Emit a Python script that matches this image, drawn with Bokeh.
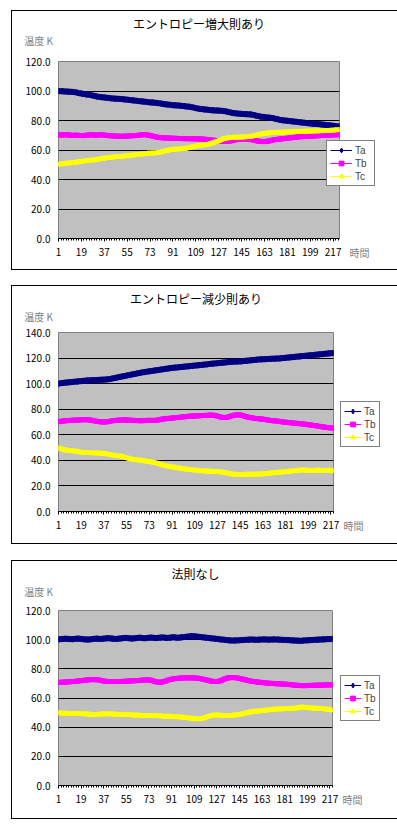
from bokeh.plotting import figure
from bokeh.models import (Range1d, FixedTicker, NumeralTickFormatter, Legend, LegendItem,
                          ColumnDataSource, LinearAxis)
from bokeh.layouts import column
from bokeh.embed import file_html
from bokeh.resources import INLINE

FONT = "Noto Sans CJK JP"
LEG_FONT = "Liberation Sans"

titles = ["エントロピー増大則あり", "エントロピー減少則あり", "法則なし"]
y_axis_name = "温度 K"
x_axis_name = "時間"
series_names = ["Ta", "Tb", "Tc"]
x_tick_labels = [1, 19, 37, 55, 73, 91, 109, 127, 145, 163, 181, 199, 217]
y_ticks_1 = [0, 20, 40, 60, 80, 100, 120]
y_ticks_2 = [0, 20, 40, 60, 80, 100, 120, 140]
y_ticks_3 = [0, 20, 40, 60, 80, 100, 120]

# ---- Panel 1: エントロピー増大則あり ----
ta_1 = [100.0, 99.9, 99.9, 99.8, 99.8, 99.7, 99.6, 99.6, 99.5, 99.5,
        99.4, 99.4, 99.3, 99.2, 99.0, 98.8, 98.6, 98.4, 98.3, 98.1,
        98.0, 97.8, 97.7, 97.6, 97.5, 97.3, 97.1, 96.9, 96.7, 96.5,
        96.3, 96.1, 96.0, 95.9, 95.8, 95.7, 95.6, 95.5, 95.4, 95.3,
        95.2, 95.1, 95.0, 94.9, 94.8, 94.8, 94.7, 94.7, 94.6, 94.6,
        94.5, 94.4, 94.3, 94.2, 94.1, 94.0, 93.9, 93.8, 93.7, 93.6,
        93.5, 93.4, 93.3, 93.2, 93.1, 93.0, 92.9, 92.8, 92.7, 92.6,
        92.5, 92.4, 92.3, 92.2, 92.2, 92.1, 92.0, 91.9, 91.8, 91.7,
        91.6, 91.4, 91.3, 91.1, 91.0, 90.9, 90.8, 90.7, 90.6, 90.5,
        90.4, 90.3, 90.3, 90.2, 90.2, 90.1, 90.0, 89.9, 89.8, 89.7,
        89.6, 89.5, 89.4, 89.3, 89.2, 89.0, 88.8, 88.6, 88.4, 88.2,
        88.0, 87.9, 87.8, 87.7, 87.6, 87.5, 87.4, 87.3, 87.2, 87.1,
        87.0, 86.9, 86.9, 86.8, 86.8, 86.7, 86.7, 86.6, 86.6, 86.5,
        86.4, 86.3, 86.1, 85.9, 85.7, 85.5, 85.3, 85.1, 85.0, 84.9,
        84.8, 84.7, 84.6, 84.5, 84.5, 84.4, 84.4, 84.3, 84.3, 84.2,
        84.2, 84.1, 84.0, 83.8, 83.6, 83.4, 83.2, 83.0, 82.8, 82.6,
        82.5, 82.4, 82.3, 82.2, 82.1, 82.0, 81.9, 81.8, 81.7, 81.5,
        81.3, 81.1, 80.9, 80.7, 80.5, 80.3, 80.2, 80.1, 80.0, 79.9,
        79.8, 79.7, 79.6, 79.5, 79.4, 79.3, 79.2, 79.1, 79.0, 78.9,
        78.8, 78.7, 78.6, 78.5, 78.4, 78.3, 78.2, 78.1, 78.0, 77.9,
        77.8, 77.7, 77.7, 77.6, 77.6, 77.5, 77.4, 77.3, 77.2, 77.1,
        77.0, 76.9, 76.8, 76.7, 76.6, 76.5, 76.4, 76.3, 76.2, 76.1, 76.0, 75.9]
tb_1 = [70.2, 70.3, 70.2, 70.1, 70.2, 70.3, 70.4, 70.3, 70.2, 70.1,
        70.0, 69.9, 69.9, 70.0, 70.1, 70.0, 69.9, 69.8, 69.8, 69.7,
        69.8, 69.9, 70.0, 70.1, 70.2, 70.3, 70.3, 70.2, 70.1, 70.0,
        70.0, 70.1, 70.2, 70.3, 70.3, 70.2, 70.1, 70.0, 69.9, 69.8,
        69.7, 69.6, 69.6, 69.5, 69.5, 69.4, 69.4, 69.3, 69.3, 69.3,
        69.3, 69.3, 69.4, 69.4, 69.5, 69.5, 69.6, 69.6, 69.7, 69.7,
        69.8, 69.8, 69.9, 70.0, 70.1, 70.2, 70.3, 70.4, 70.4, 70.3,
        70.2, 70.0, 69.8, 69.6, 69.4, 69.2, 69.0, 68.8, 68.6, 68.5,
        68.4, 68.3, 68.3, 68.2, 68.2, 68.2, 68.1, 68.1, 68.0, 68.0,
        68.0, 67.9, 67.9, 67.9, 67.8, 67.8, 67.8, 67.8, 67.7, 67.7,
        67.7, 67.7, 67.7, 67.7, 67.6, 67.6, 67.6, 67.6, 67.6, 67.5,
        67.5, 67.5, 67.5, 67.4, 67.4, 67.3, 67.2, 67.1, 67.0, 66.9,
        66.8, 66.7, 66.6, 66.5, 66.4, 66.3, 66.2, 66.1, 66.0, 65.9,
        65.8, 65.8, 65.8, 65.9, 66.0, 66.1, 66.2, 66.4, 66.6, 66.8,
        67.0, 67.2, 67.3, 67.4, 67.5, 67.5, 67.5, 67.4, 67.4, 67.3,
        67.2, 67.1, 67.0, 66.8, 66.6, 66.4, 66.2, 66.0, 65.9, 65.8,
        65.8, 65.7, 65.7, 65.8, 65.9, 66.0, 66.2, 66.4, 66.6, 66.8,
        67.0, 67.1, 67.2, 67.3, 67.4, 67.5, 67.6, 67.7, 67.8, 67.9,
        68.0, 68.1, 68.2, 68.3, 68.4, 68.5, 68.6, 68.7, 68.8, 68.9,
        69.0, 69.0, 69.1, 69.1, 69.2, 69.2, 69.3, 69.3, 69.4, 69.4,
        69.5, 69.5, 69.6, 69.6, 69.7, 69.7, 69.8, 69.8, 69.9, 69.9,
        70.0, 70.0, 70.1, 70.1, 70.2, 70.2, 70.3, 70.3, 70.3, 70.4, 70.4, 70.4]
tc_1 = [50.0, 50.2, 50.4, 50.5, 50.6, 50.7, 50.8, 50.9, 51.0, 51.0,
        51.1, 51.2, 51.3, 51.4, 51.6, 51.7, 51.9, 52.0, 52.1, 52.2,
        52.3, 52.4, 52.5, 52.6, 52.7, 52.8, 52.9, 53.0, 53.1, 53.3,
        53.4, 53.6, 53.7, 53.9, 54.0, 54.1, 54.2, 54.4, 54.5, 54.6,
        54.7, 54.8, 54.9, 55.0, 55.1, 55.2, 55.3, 55.3, 55.4, 55.5,
        55.5, 55.6, 55.7, 55.8, 55.9, 56.0, 56.1, 56.2, 56.3, 56.4,
        56.5, 56.6, 56.7, 56.8, 56.9, 57.0, 57.1, 57.2, 57.3, 57.4,
        57.5, 57.6, 57.6, 57.7, 57.7, 57.7, 57.8, 57.9, 58.0, 58.2,
        58.4, 58.6, 58.8, 59.0, 59.2, 59.4, 59.6, 59.8, 60.0, 60.1,
        60.2, 60.3, 60.4, 60.4, 60.5, 60.5, 60.6, 60.6, 60.7, 60.8,
        60.9, 61.1, 61.3, 61.5, 61.7, 61.9, 62.1, 62.3, 62.5, 62.7,
        62.8, 62.9, 63.0, 63.1, 63.2, 63.3, 63.4, 63.6, 63.8, 64.0,
        64.3, 64.6, 64.9, 65.2, 65.5, 65.8, 66.1, 66.5, 66.9, 67.2,
        67.5, 67.7, 67.9, 68.0, 68.1, 68.2, 68.2, 68.3, 68.3, 68.4,
        68.4, 68.5, 68.5, 68.5, 68.6, 68.6, 68.6, 68.7, 68.7, 68.8,
        68.9, 69.0, 69.2, 69.4, 69.6, 69.8, 70.0, 70.2, 70.4, 70.6,
        70.8, 70.9, 71.0, 71.1, 71.2, 71.3, 71.4, 71.5, 71.5, 71.6,
        71.6, 71.7, 71.7, 71.7, 71.8, 71.8, 71.8, 71.9, 71.9, 72.0,
        72.0, 72.0, 72.1, 72.1, 72.1, 72.2, 72.2, 72.2, 72.3, 72.3,
        72.3, 72.4, 72.4, 72.4, 72.5, 72.5, 72.5, 72.6, 72.6, 72.6,
        72.6, 72.7, 72.7, 72.7, 72.7, 72.8, 72.8, 72.8, 72.8, 72.8,
        72.9, 72.9, 73.0, 73.0, 73.1, 73.2, 73.2, 73.3, 73.4, 73.5, 73.5, 73.6]

# ---- Panel 2: エントロピー減少則あり ----
ta_2 = [100.0, 100.2, 100.4, 100.5, 100.6, 100.7, 100.8, 100.9, 101.0, 101.1,
        101.2, 101.3, 101.4, 101.5, 101.6, 101.7, 101.8, 101.9, 102.0, 102.1,
        102.2, 102.3, 102.4, 102.5, 102.5, 102.6, 102.6, 102.7, 102.7, 102.8,
        102.8, 102.9, 102.9, 103.0, 103.0, 103.1, 103.1, 103.2, 103.3, 103.4,
        103.5, 103.7, 103.9, 104.1, 104.3, 104.5, 104.7, 104.9, 105.1, 105.3,
        105.5, 105.7, 105.9, 106.1, 106.3, 106.5, 106.7, 106.9, 107.1, 107.3,
        107.5, 107.7, 107.9, 108.1, 108.3, 108.5, 108.7, 108.9, 109.0, 109.2,
        109.3, 109.5, 109.6, 109.8, 109.9, 110.1, 110.2, 110.4, 110.5, 110.7,
        110.8, 111.0, 111.1, 111.3, 111.4, 111.6, 111.7, 111.9, 112.0, 112.2,
        112.3, 112.4, 112.5, 112.6, 112.7, 112.8, 112.9, 113.0, 113.1, 113.2,
        113.3, 113.4, 113.5, 113.6, 113.7, 113.8, 113.9, 114.0, 114.1, 114.2,
        114.3, 114.4, 114.5, 114.6, 114.7, 114.8, 114.9, 115.0, 115.1, 115.3,
        115.4, 115.5, 115.6, 115.7, 115.8, 115.9, 116.0, 116.1, 116.2, 116.3,
        116.4, 116.5, 116.6, 116.7, 116.8, 116.9, 117.0, 117.1, 117.1, 117.2,
        117.2, 117.3, 117.3, 117.4, 117.4, 117.5, 117.6, 117.7, 117.8, 117.9,
        118.0, 118.1, 118.2, 118.3, 118.4, 118.5, 118.6, 118.7, 118.8, 118.9,
        119.0, 119.0, 119.1, 119.1, 119.2, 119.2, 119.3, 119.3, 119.4, 119.4,
        119.5, 119.5, 119.6, 119.6, 119.7, 119.7, 119.8, 119.9, 120.0, 120.1,
        120.2, 120.3, 120.4, 120.5, 120.6, 120.7, 120.8, 120.9, 121.0, 121.1,
        121.2, 121.3, 121.4, 121.5, 121.6, 121.7, 121.8, 121.9, 122.0, 122.1,
        122.2, 122.3, 122.4, 122.5, 122.6, 122.7, 122.8, 122.9, 123.0, 123.1,
        123.2, 123.3, 123.4, 123.5, 123.6, 123.7, 123.8, 123.9, 124.0]
tb_2 = [70.2, 70.4, 70.6, 70.7, 70.8, 70.9, 71.0, 71.1, 71.2, 71.2,
        71.3, 71.3, 71.4, 71.4, 71.5, 71.5, 71.6, 71.6, 71.7, 71.7,
        71.8, 71.8, 71.8, 71.7, 71.7, 71.6, 71.4, 71.2, 71.0, 70.8,
        70.6, 70.4, 70.3, 70.2, 70.1, 70.0, 70.0, 70.0, 70.1, 70.2,
        70.4, 70.6, 70.8, 71.0, 71.1, 71.2, 71.3, 71.4, 71.5, 71.5,
        71.5, 71.6, 71.6, 71.6, 71.5, 71.5, 71.4, 71.4, 71.3, 71.3,
        71.2, 71.2, 71.1, 71.1, 71.0, 71.0, 71.0, 71.1, 71.1, 71.2,
        71.2, 71.3, 71.3, 71.3, 71.2, 71.2, 71.2, 71.3, 71.4, 71.6,
        71.8, 72.0, 72.2, 72.4, 72.5, 72.6, 72.7, 72.8, 72.9, 73.0,
        73.1, 73.2, 73.3, 73.4, 73.5, 73.6, 73.7, 73.8, 73.9, 74.0,
        74.1, 74.2, 74.3, 74.4, 74.5, 74.6, 74.6, 74.7, 74.7, 74.8,
        74.8, 74.9, 74.9, 75.0, 75.0, 75.1, 75.1, 75.2, 75.2, 75.3,
        75.4, 75.4, 75.4, 75.3, 75.1, 74.9, 74.6, 74.3, 74.0, 73.8,
        73.6, 73.5, 73.5, 73.6, 73.8, 74.1, 74.4, 74.7, 75.0, 75.2,
        75.4, 75.5, 75.6, 75.6, 75.5, 75.3, 75.0, 74.7, 74.4, 74.1,
        73.9, 73.7, 73.5, 73.3, 73.1, 72.9, 72.8, 72.7, 72.6, 72.5,
        72.4, 72.3, 72.2, 72.1, 71.9, 71.7, 71.5, 71.4, 71.2, 71.1,
        71.0, 70.9, 70.8, 70.7, 70.6, 70.4, 70.3, 70.2, 70.0, 69.9,
        69.8, 69.7, 69.6, 69.5, 69.4, 69.3, 69.2, 69.1, 69.0, 68.9,
        68.8, 68.7, 68.6, 68.5, 68.4, 68.3, 68.2, 68.0, 67.9, 67.8,
        67.6, 67.5, 67.3, 67.2, 67.0, 66.9, 66.7, 66.6, 66.4, 66.3,
        66.1, 66.0, 65.8, 65.7, 65.6, 65.5, 65.4, 65.3, 65.3]
tc_2 = [49.5, 49.2, 48.9, 48.6, 48.3, 48.0, 47.8, 47.6, 47.5, 47.4,
        47.3, 47.2, 47.1, 47.0, 46.9, 46.8, 46.6, 46.4, 46.2, 46.0,
        45.9, 45.8, 45.8, 45.7, 45.7, 45.7, 45.6, 45.6, 45.6, 45.5,
        45.5, 45.5, 45.4, 45.4, 45.3, 45.3, 45.2, 45.1, 44.9, 44.7,
        44.5, 44.3, 44.1, 43.9, 43.7, 43.5, 43.4, 43.3, 43.2, 43.1,
        43.0, 42.8, 42.5, 42.2, 41.9, 41.6, 41.3, 41.0, 40.8, 40.6,
        40.4, 40.3, 40.2, 40.1, 40.0, 39.9, 39.8, 39.6, 39.4, 39.2,
        39.0, 38.9, 38.8, 38.7, 38.5, 38.3, 38.1, 37.9, 37.6, 37.3,
        37.0, 36.7, 36.4, 36.1, 35.8, 35.6, 35.4, 35.2, 35.0, 34.8,
        34.7, 34.5, 34.4, 34.2, 34.0, 33.9, 33.7, 33.5, 33.3, 33.2,
        33.0, 32.9, 32.8, 32.7, 32.6, 32.4, 32.3, 32.2, 32.1, 32.0,
        31.9, 31.8, 31.7, 31.6, 31.5, 31.5, 31.4, 31.4, 31.3, 31.3,
        31.2, 31.2, 31.1, 31.1, 31.0, 31.0, 30.9, 30.9, 30.8, 30.7,
        30.6, 30.4, 30.2, 30.0, 29.8, 29.6, 29.4, 29.2, 29.0, 28.9,
        28.8, 28.7, 28.7, 28.6, 28.6, 28.6, 28.7, 28.7, 28.7, 28.8,
        28.8, 28.8, 28.8, 28.8, 28.9, 28.9, 28.9, 28.9, 29.0, 29.0,
        29.0, 29.1, 29.2, 29.3, 29.4, 29.5, 29.6, 29.7, 29.8, 29.9,
        30.0, 30.1, 30.2, 30.3, 30.4, 30.4, 30.5, 30.6, 30.7, 30.8,
        30.9, 31.0, 31.1, 31.2, 31.3, 31.4, 31.5, 31.6, 31.7, 31.8,
        31.9, 32.0, 32.1, 32.2, 32.2, 32.2, 32.1, 32.0, 31.9, 31.8,
        31.7, 31.7, 31.8, 31.9, 32.0, 32.1, 32.1, 32.0, 31.9, 31.8,
        31.7, 31.7, 31.8, 31.9, 32.0, 32.0, 31.9, 31.8, 31.6]

# ---- Panel 3: 法則なし ----
ta_3 = [100.2, 100.3, 100.4, 100.5, 100.5, 100.6, 100.6, 100.5, 100.5, 100.4,
        100.4, 100.3, 100.4, 100.5, 100.6, 100.7, 100.7, 100.6, 100.5, 100.4,
        100.3, 100.2, 100.2, 100.1, 100.1, 100.2, 100.3, 100.4, 100.5, 100.6,
        100.7, 100.7, 100.6, 100.5, 100.5, 100.6, 100.7, 100.8, 100.9, 101.0,
        101.0, 100.9, 100.8, 100.7, 100.6, 100.5, 100.5, 100.6, 100.7, 100.8,
        100.9, 101.0, 101.1, 101.2, 101.2, 101.1, 101.0, 100.9, 100.8, 100.8,
        100.9, 101.0, 101.1, 101.2, 101.3, 101.3, 101.2, 101.1, 101.0, 101.0,
        101.1, 101.2, 101.3, 101.4, 101.4, 101.3, 101.2, 101.1, 101.1, 101.2,
        101.3, 101.4, 101.5, 101.5, 101.4, 101.3, 101.2, 101.2, 101.3, 101.4,
        101.5, 101.6, 101.6, 101.5, 101.4, 101.3, 101.4, 101.5, 101.6, 101.7,
        101.8, 101.9, 102.0, 102.1, 102.2, 102.3, 102.4, 102.4, 102.3, 102.2,
        102.1, 102.0, 101.9, 101.8, 101.7, 101.6, 101.5, 101.4, 101.3, 101.2,
        101.1, 101.0, 100.9, 100.8, 100.7, 100.6, 100.5, 100.4, 100.3, 100.2,
        100.1, 100.0, 99.9, 99.8, 99.7, 99.6, 99.5, 99.5, 99.4, 99.4,
        99.4, 99.5, 99.5, 99.6, 99.6, 99.7, 99.7, 99.8, 99.8, 99.9,
        99.9, 100.0, 100.0, 100.1, 100.1, 100.0, 100.0, 99.9, 99.9, 100.0,
        100.0, 100.1, 100.1, 100.2, 100.2, 100.1, 100.1, 100.0, 100.0, 100.1,
        100.1, 100.2, 100.2, 100.1, 100.1, 100.0, 100.0, 99.9, 99.9, 99.8,
        99.8, 99.8, 99.7, 99.7, 99.6, 99.6, 99.5, 99.5, 99.4, 99.4,
        99.3, 99.3, 99.2, 99.2, 99.3, 99.4, 99.5, 99.5, 99.6, 99.6,
        99.7, 99.7, 99.8, 99.8, 99.9, 99.9, 100.0, 100.0, 100.1, 100.1,
        100.2, 100.2, 100.3, 100.3, 100.4, 100.4, 100.4, 100.5, 100.4]
tb_3 = [70.6, 70.7, 70.8, 70.8, 70.9, 70.9, 71.0, 71.0, 71.1, 71.1,
        71.2, 71.3, 71.3, 71.4, 71.5, 71.6, 71.7, 71.8, 71.9, 72.0,
        72.1, 72.2, 72.3, 72.4, 72.5, 72.5, 72.6, 72.6, 72.6, 72.6,
        72.6, 72.5, 72.4, 72.2, 72.0, 71.8, 71.6, 71.5, 71.4, 71.3,
        71.3, 71.3, 71.3, 71.3, 71.3, 71.3, 71.3, 71.3, 71.3, 71.3,
        71.3, 71.4, 71.4, 71.5, 71.5, 71.6, 71.6, 71.7, 71.7, 71.8,
        71.8, 71.9, 71.9, 72.0, 72.0, 72.1, 72.2, 72.3, 72.3, 72.4,
        72.4, 72.4, 72.4, 72.3, 72.1, 71.8, 71.5, 71.2, 71.0, 70.9,
        70.8, 70.8, 70.9, 71.1, 71.3, 71.6, 71.9, 72.2, 72.5, 72.7,
        72.9, 73.1, 73.2, 73.3, 73.4, 73.5, 73.6, 73.6, 73.7, 73.7,
        73.7, 73.8, 73.8, 73.8, 73.8, 73.8, 73.8, 73.8, 73.8, 73.7,
        73.6, 73.5, 73.4, 73.3, 73.1, 72.9, 72.7, 72.5, 72.3, 72.1,
        71.9, 71.7, 71.5, 71.4, 71.3, 71.3, 71.3, 71.4, 71.6, 71.9,
        72.2, 72.6, 73.0, 73.3, 73.6, 73.8, 73.9, 74.0, 74.0, 74.0,
        74.0, 73.9, 73.8, 73.6, 73.4, 73.2, 73.0, 72.8, 72.6, 72.4,
        72.2, 72.0, 71.8, 71.6, 71.4, 71.3, 71.2, 71.1, 71.0, 70.9,
        70.8, 70.7, 70.6, 70.5, 70.4, 70.3, 70.2, 70.1, 70.1, 70.0,
        70.0, 69.9, 69.9, 69.8, 69.8, 69.7, 69.7, 69.6, 69.6, 69.5,
        69.5, 69.4, 69.4, 69.3, 69.2, 69.1, 69.0, 68.9, 68.8, 68.8,
        68.7, 68.6, 68.6, 68.5, 68.5, 68.5, 68.5, 68.5, 68.6, 68.6,
        68.6, 68.6, 68.7, 68.7, 68.7, 68.7, 68.8, 68.8, 68.8, 68.8,
        68.9, 68.9, 68.9, 68.9, 69.0, 69.0, 69.0, 69.0, 69.0]
tc_3 = [49.7, 49.6, 49.5, 49.4, 49.3, 49.3, 49.2, 49.2, 49.1, 49.1,
        49.1, 49.0, 49.0, 49.0, 49.0, 49.0, 49.0, 49.0, 49.0, 49.0,
        48.9, 48.9, 48.8, 48.8, 48.7, 48.6, 48.5, 48.4, 48.3, 48.3,
        48.4, 48.5, 48.6, 48.7, 48.8, 48.8, 48.8, 48.9, 48.9, 48.9,
        48.9, 48.9, 48.8, 48.8, 48.7, 48.6, 48.5, 48.5, 48.5, 48.5,
        48.5, 48.5, 48.5, 48.5, 48.4, 48.4, 48.3, 48.3, 48.2, 48.2,
        48.1, 48.1, 48.0, 48.0, 47.9, 47.9, 47.8, 47.8, 47.7, 47.7,
        47.7, 47.7, 47.7, 47.7, 47.7, 47.7, 47.8, 47.8, 47.8, 47.7,
        47.6, 47.5, 47.4, 47.3, 47.3, 47.2, 47.2, 47.2, 47.2, 47.2,
        47.1, 47.1, 47.0, 47.0, 46.9, 46.9, 46.8, 46.8, 46.7, 46.6,
        46.5, 46.4, 46.3, 46.2, 46.1, 46.0, 45.9, 45.8, 45.7, 45.6,
        45.5, 45.5, 45.5, 45.6, 45.8, 46.0, 46.3, 46.6, 46.9, 47.2,
        47.5, 47.7, 47.9, 48.0, 48.1, 48.1, 48.1, 48.0, 48.0, 47.9,
        47.8, 47.7, 47.7, 47.6, 47.6, 47.7, 47.7, 47.8, 47.9, 48.0,
        48.1, 48.2, 48.3, 48.4, 48.5, 48.7, 48.9, 49.1, 49.3, 49.5,
        49.7, 49.9, 50.1, 50.3, 50.5, 50.6, 50.7, 50.7, 50.8, 50.8,
        50.9, 51.0, 51.1, 51.2, 51.3, 51.4, 51.5, 51.6, 51.7, 51.8,
        51.9, 52.0, 52.1, 52.2, 52.2, 52.3, 52.3, 52.3, 52.3, 52.3,
        52.4, 52.4, 52.4, 52.4, 52.4, 52.5, 52.6, 52.7, 52.8, 52.9,
        53.0, 53.2, 53.4, 53.5, 53.5, 53.4, 53.3, 53.2, 53.1, 53.0,
        53.0, 52.9, 52.9, 52.8, 52.8, 52.7, 52.7, 52.6, 52.6, 52.5,
        52.5, 52.4, 52.3, 52.2, 52.1, 52.0, 51.8, 51.6, 51.4]

NAVY = "#000080"
MAGENTA = "#FF00FF"
YELLOW = "#FFFF00"
GRAY_TXT = "#808080"
PAD = "\u3000\u3000\u3000\u3000"


def text_axis(range_name, tick, label, standoff, size="10px", color=GRAY_TXT):
    ax = LinearAxis(x_range_name=range_name,
                    ticker=FixedTicker(ticks=[tick]),
                    major_label_overrides={tick: label})
    ax.axis_line_color = None
    ax.major_tick_line_color = None
    ax.minor_tick_line_color = None
    ax.major_tick_out = 0
    ax.major_tick_in = 0
    ax.minor_tick_out = 0
    ax.minor_tick_in = 0
    ax.major_label_standoff = standoff
    ax.major_label_text_font = FONT
    ax.major_label_text_font_size = size
    ax.major_label_text_color = color
    return ax


def make_panel(title, ta, tb, tc, y_ticks, fw, fh, bl, br, bt, bb,
               ylab_standoff, title_standoff, xlab_standoff,
               leg_loc, leg_glyph_w, leg_label_w, margin):
    n = len(ta)
    p = figure(frame_width=fw, frame_height=fh,
               min_border_left=bl, min_border_right=br, min_border_top=bt, min_border_bottom=bb,
               x_range=Range1d(1, n), y_range=Range1d(0, y_ticks[-1]),
               output_backend="svg", toolbar_location=None, title=None)
    p.extra_x_ranges = {"lab": Range1d(0, 1)}
    p.margin = margin
    p.styles = {"border": "1px solid #000000"}
    p.border_fill_color = "white"
    p.background_fill_color = "#C0C0C0"
    p.outline_line_color = "#808080"
    p.outline_line_width = 1

    # x axis
    xa = p.xaxis[0]
    xa.ticker = FixedTicker(ticks=x_tick_labels, minor_ticks=list(range(1, n + 1, 2)))
    xa.axis_line_color = "black"
    xa.axis_line_width = 1
    xa.major_tick_in = 0
    xa.major_tick_out = 3
    xa.minor_tick_in = 0
    xa.minor_tick_out = 2
    xa.major_tick_line_color = "black"
    xa.minor_tick_line_color = "black"
    xa.major_label_standoff = 6
    xa.major_label_text_font = FONT
    xa.major_label_text_font_size = "10px"
    xa.major_label_text_color = "black"

    # y axis
    ya = p.yaxis[0]
    ya.ticker = FixedTicker(ticks=y_ticks)
    ya.formatter = NumeralTickFormatter(format="0.0")
    ya.axis_line_color = None
    ya.major_tick_out = 0
    ya.major_tick_in = 0
    ya.minor_tick_out = 0
    ya.minor_tick_in = 0
    ya.major_label_standoff = 8
    ya.major_label_text_font = FONT
    ya.major_label_text_font_size = "10px"
    ya.major_label_text_color = "black"

    p.xgrid.visible = False
    p.ygrid.ticker = FixedTicker(ticks=y_ticks)
    p.ygrid.grid_line_color = "black"
    p.ygrid.grid_line_width = 1

    renderers = []
    specs = [(ta, NAVY, "diamond", 6), (tb, MAGENTA, "square", 4), (tc, YELLOW, "triangle", 5)]
    for vals, col, mk, sz in specs:
        src = ColumnDataSource(dict(t=list(range(1, len(vals) + 1)), v=vals))
        lr = p.line("t", "v", source=src, line_color=col, line_width=1)
        sr = p.scatter("t", "v", source=src, marker=mk, size=sz, fill_color=col, line_color=col)
        renderers.append([lr, sr])

    items = [LegendItem(label=name, renderers=r) for name, r in zip(series_names, renderers)]
    leg = Legend(items=items, location=leg_loc,
                 border_line_color="black", border_line_width=1,
                 background_fill_color="white", background_fill_alpha=1.0,
                 label_text_font=LEG_FONT, label_text_font_size="10px",
                 glyph_width=leg_glyph_w, glyph_height=12, label_height=12,
                 label_width=leg_label_w, label_standoff=3,
                 spacing=1, padding=3, margin=0)
    p.add_layout(leg, "right")

    # axis unit label (nearest to frame, at the top left), then the chart title
    p.add_layout(text_axis("lab", 0, y_axis_name + PAD, ylab_standoff), "above")
    p.add_layout(text_axis("lab", 0.5, title, title_standoff, size="12px", color="black"), "above")
    # time label, pulled up into the row of the tick labels
    p.add_layout(text_axis("lab", 1, PAD + x_axis_name, xlab_standoff), "below")
    return p


p1 = make_panel(titles[0], ta_1, tb_1, tc_1, y_ticks_1, 279, 175, 46, 49, 50, 33,
                14, -2, -14, (-13, 52), 22, 16, (10, 0, 0, 11))
p2 = make_panel(titles[1], ta_2, tb_2, tc_2, y_ticks_2, 273, 177, 46, 55, 46, 34,
                9, -1, -14, (7, 64), 17, 12, (15, 0, 0, 11))
p3 = make_panel(titles[2], ta_3, tb_3, tc_3, y_ticks_3, 272, 173, 46, 56, 49, 35,
                12, -1, -14, (8, 64), 17, 12, (16, 0, 0, 11))

layout = column(p1, p2, p3)
open("out.html", "w").write(file_html(layout, INLINE))
